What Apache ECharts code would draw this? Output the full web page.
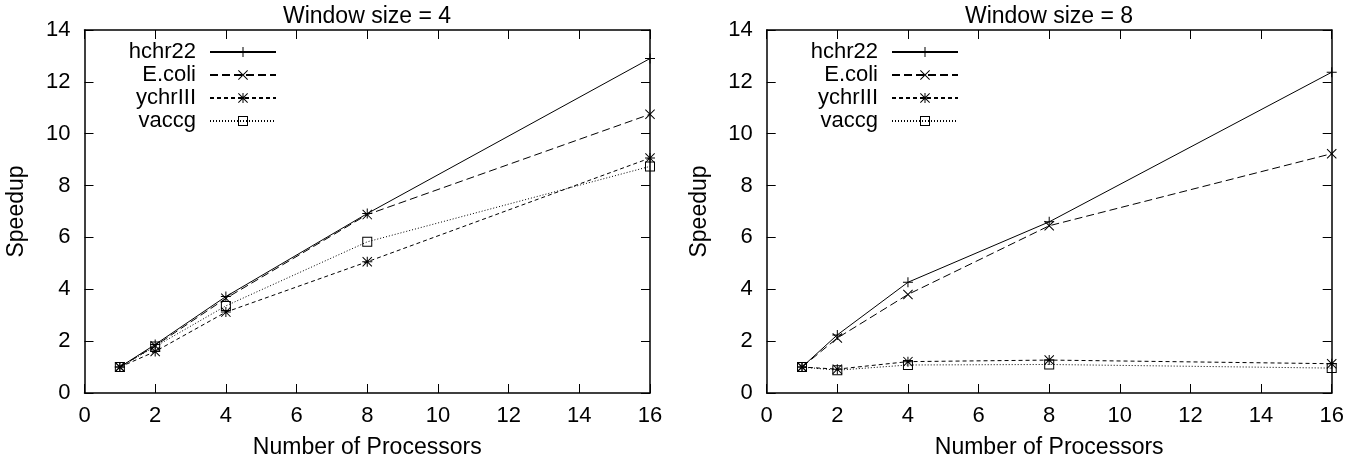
<!DOCTYPE html>
<html>
<head>
<meta charset="utf-8">
<script src="https://cdn.jsdelivr.net/npm/echarts@6/dist/echarts.min.js"></script>
<style>
  html, body { margin: 0; padding: 0; background: #fff; }
  #chart { width: 1366px; height: 464px; }
</style>
</head>
<body>
<div id="chart"></div>
<script>
// data
var procs = [1, 2, 4, 8, 16];
var seriesNames = ["hchr22", "E.coli", "ychrIII", "vaccg"];

var w4_hchr22 = [1, 1.87, 3.72, 6.92, 12.9];
var w4_ecoli = [1, 1.82, 3.65, 6.88, 10.75];
var w4_ychr = [1, 1.6, 3.12, 5.06, 9.06];
var w4_vaccg = [1, 1.79, 3.36, 5.83, 8.74];

var w8_hchr22 = [1, 2.24, 4.27, 6.6, 12.37];
var w8_ecoli = [1, 2.12, 3.8, 6.45, 9.23];
var w8_ychr = [1, 0.92, 1.21, 1.27, 1.13];
var w8_vaccg = [1, 0.88, 1.08, 1.1, 0.96];

var xTicks = [0, 2, 4, 6, 8, 10, 12, 14, 16];
var yTicks = [0, 2, 4, 6, 8, 10, 12, 14];

var FONT = "Liberation Sans, Arial, sans-serif";
var FS = 22;   // ticks, legend
var FS_BIG = 23; // titles, axis names

// gnuplot-like point types
var PLUS = "path://M0,4.5H10V5.5H0Z M4.5,0H5.5V10H4.5Z";
var CROSS = "path://M0,0.7L0.7,0L10,9.3L9.3,10Z M9.3,0L10,0.7L0.7,10L0,9.3Z";
var STAR = "path://M0,4.5H10V5.5H0Z M4.5,0H5.5V10H4.5Z M0,0.7L0.7,0L10,9.3L9.3,10Z M9.3,0L10,0.7L0.7,10L0,9.3Z";
var SQUARE = "path://M0,0H10V10H0Z M1,1V9H9V1Z";

var symbols = [PLUS, CROSS, STAR, SQUARE];
var dashes = ["solid", [8, 4], [4, 3], [1, 2]];

var grids = [
  { left: 84.5, right: 716, top: 30, bottom: 70.7 },
  { left: 766.7, right: 34.3, top: 30, bottom: 70.7 }
];

function pairs(ys) {
  return procs.map(function (p, i) { return [p, ys[i]]; });
}

function xAxis(gi, pos) {
  var bottom = pos === "bottom";
  return {
    type: "value", gridIndex: gi, position: pos,
    min: xTicks[0], max: xTicks[xTicks.length - 1], interval: 2,
    name: bottom ? "Number of Processors" : "",
    nameLocation: "middle", nameGap: 43,
    nameTextStyle: { color: "#000", fontSize: FS_BIG, fontFamily: FONT },
    axisLine: { show: true, onZero: false, lineStyle: { color: "#000", width: 1.5 } },
    axisTick: { show: true, inside: true, length: 9, lineStyle: { color: "#000", width: 1 } },
    axisLabel: { show: bottom, color: "#000", fontSize: FS, fontFamily: FONT, margin: 12 },
    splitLine: { show: false }
  };
}

function yAxis(gi, pos) {
  var left = pos === "left";
  return {
    type: "value", gridIndex: gi, position: pos,
    min: yTicks[0], max: yTicks[yTicks.length - 1], interval: 2,
    name: left ? "Speedup" : "",
    nameLocation: "middle", nameGap: 56,
    nameTextStyle: { color: "#000", fontSize: FS_BIG, fontFamily: FONT },
    axisLine: { show: true, onZero: false, lineStyle: { color: "#000", width: 1.5 } },
    axisTick: { show: true, inside: true, length: 9, lineStyle: { color: "#000", width: 1 } },
    axisLabel: { show: left, color: "#000", fontSize: FS, fontFamily: FONT, margin: 14 },
    splitLine: { show: false }
  };
}

function makeSeries(gi, sets) {
  return sets.map(function (ys, k) {
    return {
      type: "line", name: seriesNames[k],
      xAxisIndex: gi * 2, yAxisIndex: gi * 2,
      data: pairs(ys),
      symbol: symbols[k], symbolSize: 10, symbolKeepAspect: true,
      showAllSymbol: true, clip: false,
      itemStyle: { color: "#000", borderWidth: 0 },
      lineStyle: { color: "#000", width: 1, type: dashes[k] }
    };
  });
}

function legend(rightPx) {
  return {
    orient: "vertical", right: rightPx, top: 41, padding: 0,
    align: "right", itemWidth: 66, itemHeight: 12.5, itemGap: 1,
    data: seriesNames, selectedMode: false,
    textStyle: { color: "#000", fontSize: FS, fontFamily: FONT, lineHeight: 22, padding: [0, 9, 0, 0] }
  };
}

var chart = echarts.init(document.getElementById("chart"));
var option = {
  animation: false,
  backgroundColor: "#fff",
  title: [
    { text: "Window size = 4", left: 367, top: 5, textAlign: "center", padding: 0,
      textStyle: { color: "#000", fontSize: FS_BIG, fontWeight: "normal", fontFamily: FONT } },
    { text: "Window size = 8", left: 1049, top: 5, textAlign: "center", padding: 0,
      textStyle: { color: "#000", fontSize: FS_BIG, fontWeight: "normal", fontFamily: FONT } }
  ],
  legend: [legend(1366 - 277), legend(1366 - 959)],
  grid: grids,
  xAxis: [xAxis(0, "bottom"), xAxis(0, "top"), xAxis(1, "bottom"), xAxis(1, "top")],
  yAxis: [yAxis(0, "left"), yAxis(0, "right"), yAxis(1, "left"), yAxis(1, "right")],
  series: makeSeries(0, [w4_hchr22, w4_ecoli, w4_ychr, w4_vaccg])
    .concat(makeSeries(1, [w8_hchr22, w8_ecoli, w8_ychr, w8_vaccg]))
};
chart.setOption(option);
</script>
</body>
</html>
